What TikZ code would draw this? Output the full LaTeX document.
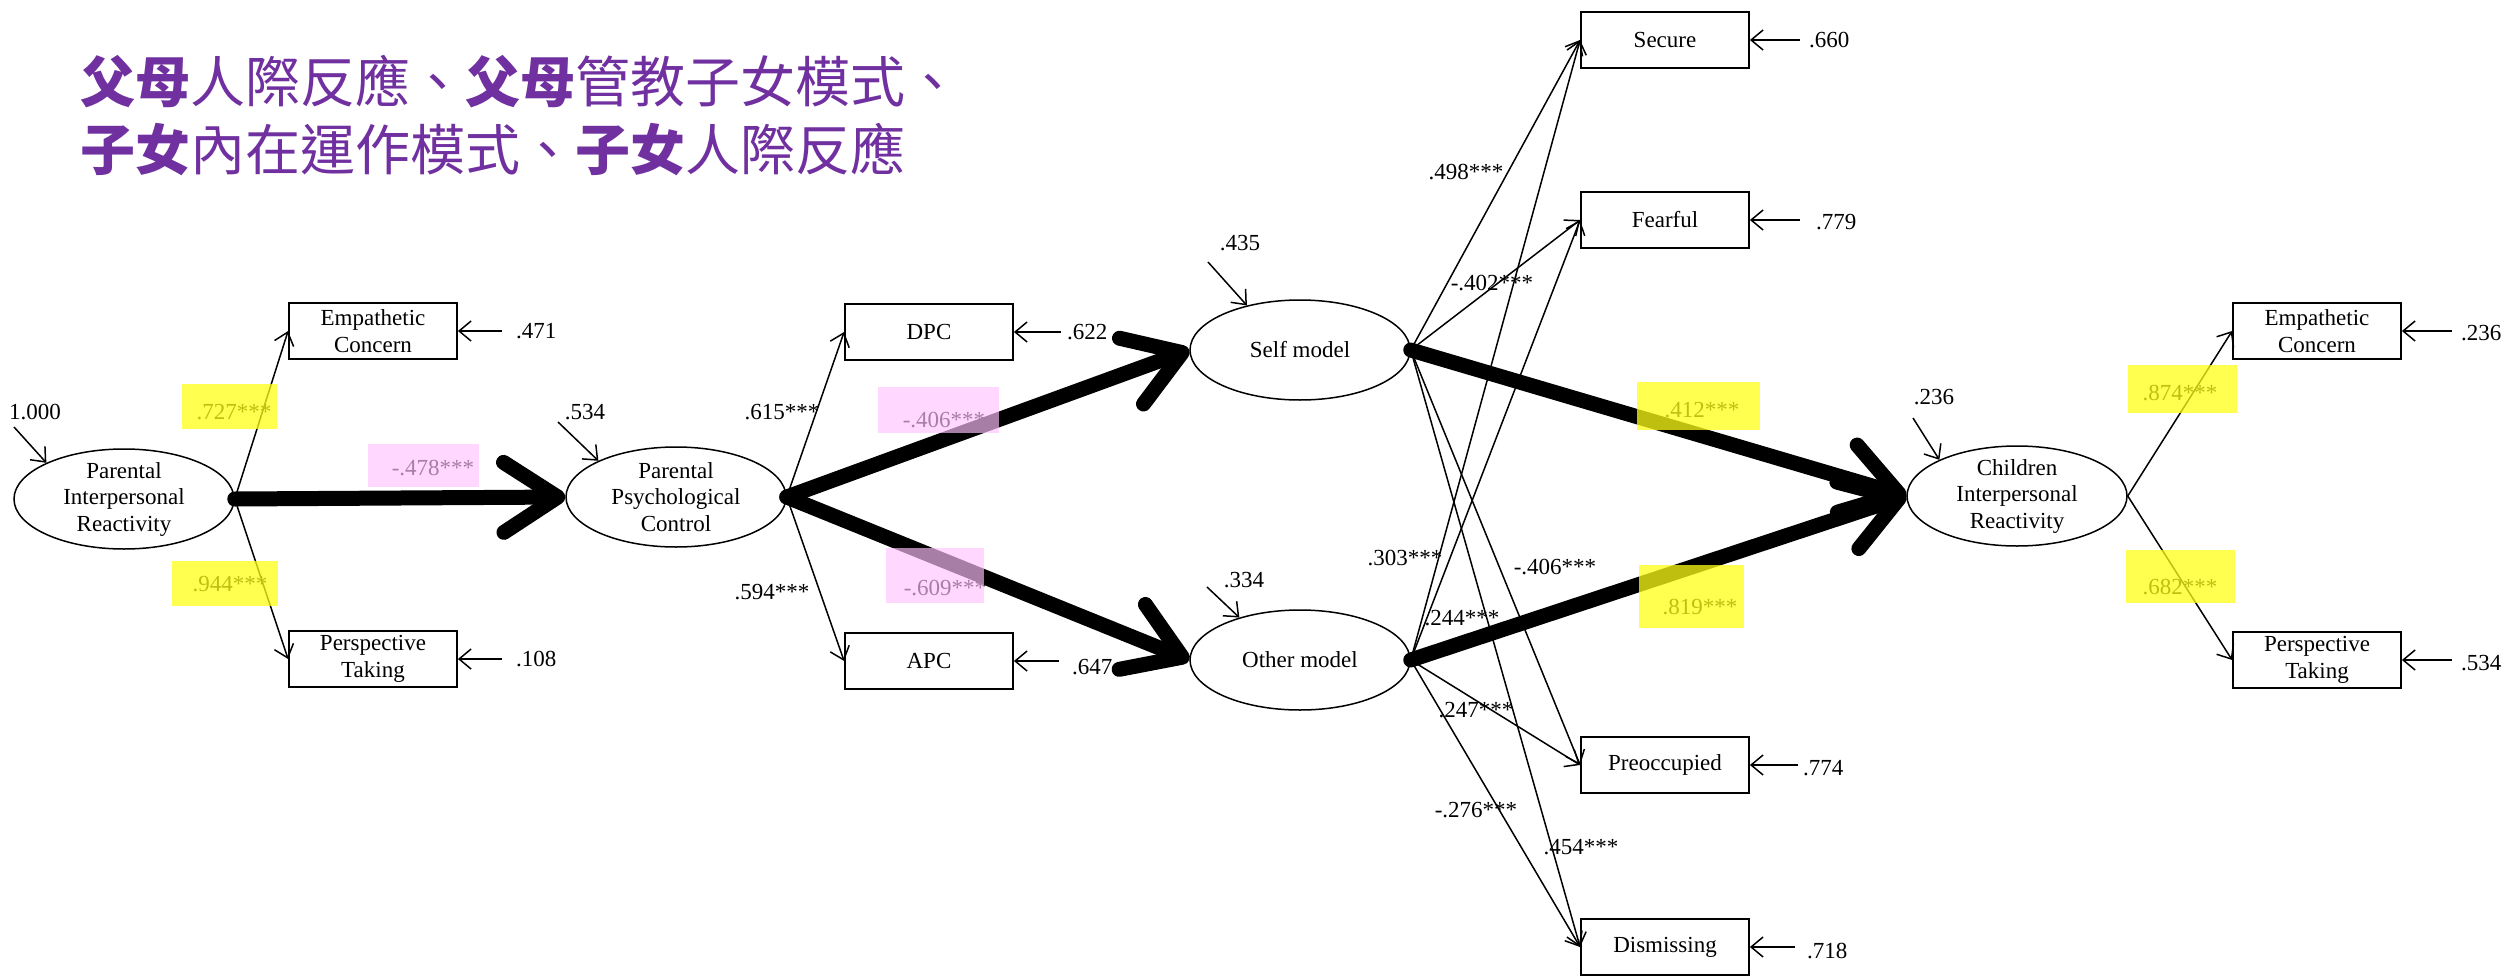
\documentclass[tikz,border=0pt]{standalone}
\usepackage{fontspec}
\setmainfont{Liberation Serif}
\newfontfamily\cjkfont{Noto Sans CJK TC}
\usetikzlibrary{arrows.meta,shapes.geometric}
\definecolor{ttl}{HTML}{7030A0}
\definecolor{hlyel}{RGB}{255,255,21}
\definecolor{hlpink}{RGB}{255,194,255}
\newcommand\dgfont{\fontsize{23}{26.5}\selectfont}
\newcommand\ttlfont{\cjkfont\fontsize{55}{60}\selectfont}
\begin{document}
\begin{tikzpicture}[x=1pt,y=-1pt,
  obs/.style={draw, line width=1.8pt, minimum width=168pt, minimum height=56pt, inner sep=0pt, align=center, font=\dgfont},
  lat/.style={draw, ellipse, line width=1.5pt, minimum width=220pt, minimum height=100pt, inner xsep=-20pt, inner ysep=-15pt, align=center, font=\dgfont},
  arr/.style={line width=1.5pt, -{Straight Barb[length=12pt,width=20pt]}},
  big/.style={line width=15pt, line cap=round, -{Straight Barb[length=54pt,width=70pt,round]}},
  lab/.style={font=\dgfont, inner sep=0pt},
  ttlnode/.style={anchor=west, text=ttl, font=\ttlfont, inner sep=0pt},
  hy/.style={fill=hlyel, fill opacity=0.75},
  hp/.style={fill=hlpink, fill opacity=0.65}]
\useasboundingbox (0,0) rectangle (2506,977);

% title
\node[ttlnode] (t1) at (80,82) {\textbf{父母}人際反應、\textbf{父母}管教子女模式、};
\node[ttlnode] (t2) at (80,150) {\textbf{子女}內在運作模式、\textbf{子女}人際反應};

% latent variables
\node[lat] (PIR) at (124,499) {Parental\\Interpersonal\\Reactivity};
\node[lat] (PPC) at (676,497) {Parental\\Psychological\\Control};
\node[lat] (Self) at (1300,350) {Self model};
\node[lat] (Other) at (1300,660) {Other model};
\node[lat] (Child) at (2017,496) {Children\\Interpersonal\\Reactivity};

% observed variables
\node[obs] (EC1) at (373,331) {Empathetic\\Concern};
\node[obs] (PT1) at (373,659) {Perspective\\Taking};
\node[obs] (DPC) at (929,332) {DPC};
\node[obs] (APC) at (929,661) {APC};
\node[obs] (Sec) at (1665,40) {Secure};
\node[obs] (Fea) at (1665,220) {Fearful};
\node[obs] (Pre) at (1665,765) {Preoccupied};
\node[obs] (Dis) at (1665,947) {Dismissing};
\node[obs] (EC2) at (2317,331) {Empathetic\\Concern};
\node[obs] (PT2) at (2317,660) {Perspective\\Taking};

% thin paths
\draw[arr] (PIR.east) -- (EC1.west);
\draw[arr] (PIR.east) -- (PT1.west);
\draw[arr] (PPC.east) -- (DPC.west);
\draw[arr] (PPC.east) -- (APC.west);
\foreach \t in {Sec,Fea,Pre,Dis}{
  \draw[arr] (Self.east) -- (\t.west);
  \draw[arr] (Other.east) -- (\t.west);
}
\draw[arr] (Child.east) -- (EC2.west);
\draw[arr] (Child.east) -- (PT2.west);

% residual arrows (boxes)
\coordinate (e471) at (502,331);
\coordinate (e108) at (502,659);
\coordinate (e622) at (1061,332);
\coordinate (e647) at (1059,661);
\coordinate (e660) at (1800,40);
\coordinate (e779) at (1800,220);
\coordinate (e774) at (1798,765);
\coordinate (e718) at (1795,947);
\coordinate (e236) at (2452,331);
\coordinate (e534) at (2452,660);
\draw[arr] (e471) -- (EC1.east);
\draw[arr] (e108) -- (PT1.east);
\draw[arr] (e622) -- (DPC.east);
\draw[arr] (e647) -- (APC.east);
\draw[arr] (e660) -- (Sec.east);
\draw[arr] (e779) -- (Fea.east);
\draw[arr] (e774) -- (Pre.east);
\draw[arr] (e718) -- (Dis.east);
\draw[arr] (e236) -- (EC2.east);
\draw[arr] (e534) -- (PT2.east);

% residual arrows (latents)
\coordinate (d1000) at (14,427);
\coordinate (dppc) at (558,422);
\coordinate (dself) at (1208,262);
\coordinate (dother) at (1207,587);
\coordinate (dchild) at (1913,418);
\draw[arr] (d1000) -- (PIR.155);
\draw[arr] (dppc) -- (PPC.155);
\draw[arr] (dself) -- (Self.140);
\draw[arr] (dother) -- (Other.145);
\draw[arr] (dchild) -- (Child.155);

% thick structural paths
\draw[big] (PIR.east) -- (PPC.west);
\draw[big] (PPC.east) -- (Self.west);
\draw[big] (PPC.east) -- (Other.west);
\draw[big] (Self.east) -- (Child.west);
\draw[big] (Other.east) -- (Child.west);

% residual labels
\node[lab, anchor=west] (v471) at (516,331) {.471};
\node[lab, anchor=west] (v108) at (516,659) {.108};
\node[lab, anchor=west] (v622) at (1067,332) {.622};
\node[lab, anchor=west] (v647) at (1072,667) {.647};
\node[lab, anchor=west] (v660) at (1809,40) {.660};
\node[lab, anchor=west] (v779) at (1816,222) {.779};
\node[lab, anchor=west] (v774) at (1803,768) {.774};
\node[lab, anchor=west] (v718) at (1807,951) {.718};
\node[lab, anchor=west] (v236) at (2461,333) {.236};
\node[lab, anchor=west] (v534) at (2461,663) {.534};
\node[lab] (w1000) at (35,412) {1.000};
\node[lab] (wppc) at (585,412) {.534};
\node[lab] (wself) at (1240,243) {.435};
\node[lab] (wother) at (1244,580) {.334};
\node[lab] (wchild) at (1934,397) {.236};

% path labels
\node[lab] (p727) at (234,412) {.727***};
\node[lab] (p944) at (230,584) {.944***};
\node[lab] (p478) at (433,468) {-.478***};
\node[lab] (p615) at (782,412) {.615***};
\node[lab] (p594) at (772,592) {.594***};
\node[lab] (p406a) at (944,420) {-.406***};
\node[lab] (p609) at (945,588) {-.609***};
\node[lab] (p498) at (1466,172) {.498***};
\node[lab] (p402) at (1492,283) {-.402***};
\node[lab] (p303) at (1405,558) {.303***};
\node[lab] (p406b) at (1555,567) {-.406***};
\node[lab] (p244) at (1462,618) {.244***};
\node[lab] (p247) at (1476,710) {.247***};
\node[lab] (p276) at (1476,810) {-.276***};
\node[lab] (p454) at (1581,847) {.454***};
\node[lab] (p412) at (1702,410) {.412***};
\node[lab] (p819) at (1700,607) {.819***};
\node[lab] (p874) at (2180,393) {.874***};
\node[lab] (p682) at (2180,587) {.682***};

% highlights
\fill[hy] (182,384) rectangle (277,429);
\fill[hy] (172,561) rectangle (278,606);
\fill[hp] (368,444) rectangle (479,487);
\fill[hp] (878,387) rectangle (999,433);
\fill[hp] (886,548) rectangle (984,603);
\fill[hy] (1637,382) rectangle (1760,430);
\fill[hy] (1639,565) rectangle (1744,628);
\fill[hy] (2128,365) rectangle (2237,413);
\fill[hy] (2126,550) rectangle (2235,603);
\end{tikzpicture}
\end{document}
